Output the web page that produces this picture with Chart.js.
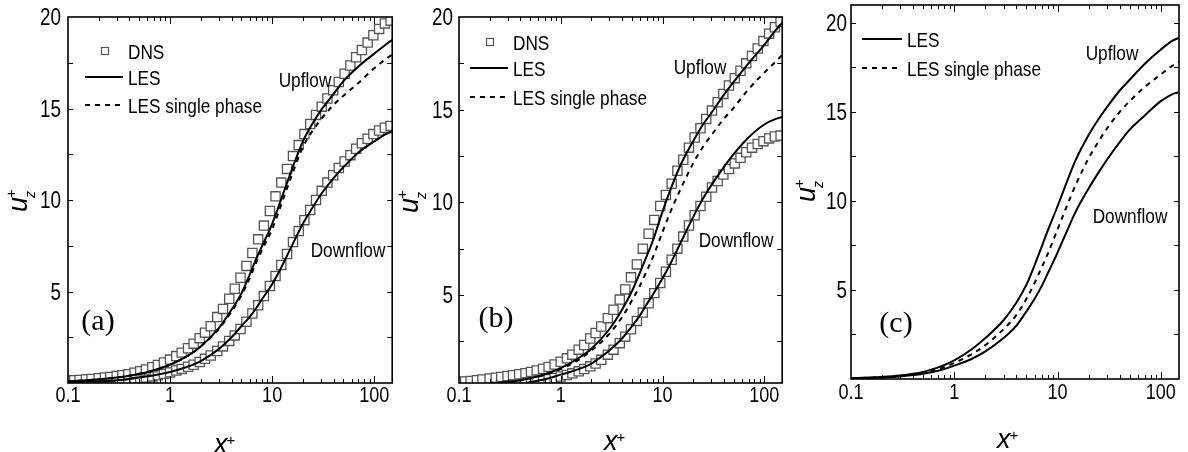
<!DOCTYPE html>
<html>
<head>
<meta charset="utf-8">
<script src="https://cdn.jsdelivr.net/npm/chart.js@4.4.1/dist/chart.umd.min.js"></script>
<style>
    html, body { margin: 0; padding: 0; background: #fff; }
    #wrap { position: relative; width: 1188px; height: 452px; }
    canvas { position: absolute; top: 0; }
</style>
</head>
<body>
<div id="wrap">
    <canvas id="chartA" width="400" height="452" style="left:0px"></canvas>
    <canvas id="chartB" width="394" height="452" style="left:396px"></canvas>
    <canvas id="chartC" width="398" height="452" style="left:790px"></canvas>
</div>
<script>
// x+ positions of the DNS samples (a, b)
const DNS_X = [0.1, 0.115, 0.13, 0.15, 0.17, 0.2, 0.23, 0.26, 0.3, 0.34, 0.39, 0.45, 0.51, 0.58, 0.67, 0.76, 0.87,
    1.0, 1.15, 1.3, 1.5, 1.7, 1.95, 2.2, 2.5, 2.9, 3.3, 3.8, 4.3, 4.9, 5.6, 6.4, 7.3, 8.3, 9.5,
    10.8, 12.3, 14, 16, 18.2, 20.7, 23.6, 26.9, 30.6, 34.8, 39.6, 45, 51.3, 58.4, 66.5, 75.7, 86.2, 98.1,
    111.7, 127.1, 144.7];
// x+ positions of the LES curves
const LES_X = [0.1, 0.15, 0.2, 0.3, 0.4, 0.5, 0.7, 1, 1.5, 2, 3, 4, 5, 6, 7, 8, 10, 12, 15, 20, 25, 30, 40, 50, 70, 100, 130, 150];

// panel (a)
const A_DNS_UP = [0.13, 0.15, 0.17, 0.19, 0.22, 0.26, 0.3, 0.33, 0.38, 0.42, 0.48, 0.56, 0.64, 0.74, 0.86, 0.98, 1.12,
    1.28, 1.47, 1.66, 1.9, 2.15, 2.45, 2.75, 3.1, 3.6, 4.05, 4.6, 5.15, 5.75, 6.4, 7.1, 7.85, 8.6, 9.4,
    10.2, 10.95, 11.7, 12.4, 13.0, 13.6, 14.15, 14.65, 15.1, 15.55, 16.0, 16.45, 16.9, 17.35, 17.8, 18.2, 18.6, 19.0,
    19.35, 19.65, 19.8];
const A_DNS_DOWN = [0.04, 0.05, 0.06, 0.07, 0.08, 0.1, 0.11, 0.13, 0.15, 0.17, 0.2, 0.23, 0.26, 0.3, 0.36, 0.42, 0.5,
    0.58, 0.68, 0.77, 0.89, 1.0, 1.15, 1.32, 1.5, 1.75, 2.0, 2.3, 2.6, 2.95, 3.35, 3.8, 4.25, 4.75, 5.3,
    5.85, 6.45, 7.05, 7.7, 8.3, 8.9, 9.45, 10.0, 10.5, 10.95, 11.35, 11.75, 12.1, 12.45, 12.8, 13.1, 13.35, 13.6,
    13.8, 13.95, 14.05];
const A_LES_UP = [0.1, 0.15, 0.2, 0.3, 0.4, 0.5, 0.7, 1.0, 1.5, 2.0, 3.0, 4.0, 4.9, 5.9, 6.8, 7.5, 8.7, 9.9, 11.4, 13.2, 14.2, 14.9, 15.8, 16.5, 17.3, 18.0, 18.5, 18.75];
const A_LES_DOWN = [0.05, 0.08, 0.1, 0.15, 0.22, 0.3, 0.42, 0.6, 0.9, 1.2, 1.85, 2.5, 3.1, 3.6, 4.1, 4.6, 5.4, 6.2, 7.3, 8.7, 9.6, 10.3, 11.2, 11.8, 12.6, 13.2, 13.6, 13.75];
const A_SINGLE = [0.1, 0.15, 0.2, 0.3, 0.4, 0.5, 0.7, 1.0, 1.5, 2.0, 2.95, 3.9, 4.8, 5.7, 6.6, 7.3, 8.4, 9.6, 11.1, 12.9, 13.8, 14.4, 15.2, 15.7, 16.4, 17.2, 17.7, 17.95];

// panel (b)
const B_DNS_UP = [0.3, 0.33, 0.36, 0.4, 0.44, 0.49, 0.54, 0.58, 0.63, 0.67, 0.72, 0.78, 0.85, 0.93, 1.02, 1.12, 1.25,
    1.4, 1.58, 1.78, 2.05, 2.3, 2.65, 2.95, 3.3, 3.75, 4.2, 4.75, 5.3, 5.95, 6.65, 7.5, 8.3, 9.05, 9.8,
    10.4, 11.0, 11.7, 12.3, 12.95, 13.5, 14.0, 14.5, 14.95, 15.4, 15.85, 16.3, 16.7, 17.1, 17.5, 17.9, 18.3, 18.7,
    19.1, 19.45, 19.75];
const B_DNS_DOWN = [0.06, 0.07, 0.08, 0.09, 0.1, 0.12, 0.14, 0.16, 0.18, 0.21, 0.24, 0.28, 0.31, 0.35, 0.4, 0.45, 0.52,
    0.6, 0.68, 0.77, 0.88, 1.0, 1.15, 1.3, 1.5, 1.78, 2.05, 2.4, 2.75, 3.15, 3.6, 4.05, 4.55, 5.1, 5.65,
    6.25, 6.9, 7.5, 8.15, 8.75, 9.3, 9.8, 10.3, 10.8, 11.15, 11.5, 11.8, 12.1, 12.4, 12.7, 12.95, 13.15, 13.3,
    13.45, 13.55, 13.6];
const B_LES_UP = [0.1, 0.15, 0.2, 0.3, 0.4, 0.5, 0.72, 1.05, 1.6, 2.1, 3.15, 4.2, 5.2, 6.2, 7.1, 7.9, 9.5, 10.7, 12.0, 13.3, 14.2, 14.8, 15.8, 16.5, 17.5, 18.5, 19.3, 19.7];
const B_LES_DOWN = [0.06, 0.09, 0.12, 0.17, 0.22, 0.3, 0.45, 0.7, 1.0, 1.3, 2.0, 2.65, 3.3, 3.9, 4.5, 5.0, 5.9, 6.7, 7.8, 9.2, 10.2, 10.9, 11.9, 12.6, 13.5, 14.2, 14.5, 14.6];
const B_SINGLE = [0.1, 0.15, 0.2, 0.3, 0.4, 0.5, 0.7, 1.0, 1.5, 2.0, 2.9, 3.8, 4.7, 5.5, 6.3, 7.0, 8.4, 9.5, 10.7, 12.1, 13.0, 13.6, 14.5, 15.1, 16.1, 17.0, 17.6, 17.95];

// panel (c)
const C_LES_UP = [0.04, 0.08, 0.11, 0.19, 0.29, 0.4, 0.65, 1.05, 1.7, 2.3, 3.3, 4.3, 5.3, 6.4, 7.4, 8.3, 9.7, 10.9, 12.3, 13.7, 14.6, 15.25, 16.2, 16.8, 17.7, 18.5, 19.0, 19.15];
const C_LES_DOWN = [0.03, 0.06, 0.08, 0.14, 0.22, 0.3, 0.46, 0.75, 1.15, 1.55, 2.3, 3.0, 3.8, 4.5, 5.2, 5.9, 7.1, 8.15, 9.4, 10.7, 11.6, 12.3, 13.3, 14.0, 14.8, 15.6, 16.0, 16.1];
const C_SINGLE = [0.03, 0.07, 0.09, 0.16, 0.25, 0.35, 0.55, 0.9, 1.42, 1.9, 2.8, 3.6, 4.5, 5.4, 6.25, 7.0, 8.4, 9.55, 10.9, 12.4, 13.35, 14.05, 15.0, 15.6, 16.4, 17.1, 17.6, 17.8];

// axis ticks
const X_TICKS = [0.1, 0.2, 0.3, 0.4, 0.5, 0.6, 0.7, 0.8, 0.9, 1, 2, 3, 4, 5, 6, 7, 8, 9,
    10, 20, 30, 40, 50, 60, 70, 80, 90, 100];
const X_MAJOR = [0.1, 1, 10, 100];
const X_TICK_LABELS = ["0.1", "1", "10", "100"];
const Y_TICKS = [2.5, 5, 7.5, 10, 12.5, 15, 17.5, 20];
const Y_LABELED = [5, 10, 15, 20];

const SANS = "'Liberation Sans', Arial, Helvetica, sans-serif";
const NARROW = 0.82; // Helvetica Narrow look

function pts(xs, ys) {
    return xs.map((x, i) => ({ x: x, y: ys[i] }));
}

function dnsSet(ys) {
    return {
        data: pts(DNS_X, ys),
        showLine: false,
        pointStyle: "rect",
        pointRadius: 6.5,
        pointBorderWidth: 1.3,
        pointBorderColor: "#555",
        pointBackgroundColor: "#fff",
        order: 2
    };
}

function lesSet(ys, dashed) {
    return {
        data: pts(LES_X, ys),
        showLine: true,
        borderColor: "#000",
        borderWidth: 2,
        borderDash: dashed ? [5, 5] : [],
        pointRadius: 0,
        cubicInterpolationMode: "monotone",
        fill: false,
        order: 1
    };
}

// 压窄的无衬线文字
function narrowText(ctx, text, x, y, size, align) {
    ctx.save();
    ctx.translate(x, y);
    ctx.scale(NARROW, 1);
    ctx.font = size + "px " + SANS;
    ctx.textAlign = align;
    ctx.textBaseline = "alphabetic";
    ctx.fillText(text, 0, 0);
    ctx.restore();
}

// 画框、刻度和面板里的文字
const decorPlugin = {
    id: "decor",
    afterDatasetsDraw(chart, args, o) {
        const { ctx, chartArea: a, scales } = chart;
        const sx = scales.x, sy = scales.y;
        ctx.save();
        ctx.strokeStyle = "#000";
        ctx.fillStyle = "#000";
        ctx.lineWidth = 1;
        ctx.beginPath();
        sx.ticks.forEach(t => {
            const px = Math.round(sx.getPixelForValue(t.value)) + 0.5;
            if (px <= a.left + 1 || px >= a.right - 1) return;
            const len = X_MAJOR.includes(t.value) ? 7 : 4;
            ctx.moveTo(px, a.bottom); ctx.lineTo(px, a.bottom - len);
            ctx.moveTo(px, a.top); ctx.lineTo(px, a.top + len);
        });
        sy.ticks.forEach(t => {
            const py = Math.round(sy.getPixelForValue(t.value)) + 0.5;
            if (py <= a.top + 1 || py >= a.bottom - 1) return;
            ctx.moveTo(a.left, py); ctx.lineTo(a.left + 5, py);
            ctx.moveTo(a.right, py); ctx.lineTo(a.right - 5, py);
        });
        ctx.stroke();
        ctx.lineWidth = 1.6;
        ctx.strokeRect(a.left, a.top, a.right - a.left, a.bottom - a.top);

        // tick labels
        X_MAJOR.forEach((v, i) => {
            narrowText(ctx, X_TICK_LABELS[i], sx.getPixelForValue(v), a.bottom + o.xLabelDrop, 22, "center");
        });
        Y_LABELED.forEach(v => {
            narrowText(ctx, String(v), a.left - o.yLabelGap, sy.getPixelForValue(v) + 8, 23, "right");
        });

        // legend
        o.legend.forEach(item => {
            if (item.kind === "dns") {
                ctx.lineWidth = 1.2;
                ctx.strokeStyle = "#555";
                ctx.strokeRect(item.mx - 3.5, item.y - 3.5, 7, 7);
            } else {
                ctx.strokeStyle = "#000";
                ctx.lineWidth = 2;
                ctx.setLineDash(item.kind === "dash" ? [5, 5] : []);
                ctx.beginPath();
                ctx.moveTo(item.x0, item.y);
                ctx.lineTo(item.x1, item.y);
                ctx.stroke();
                ctx.setLineDash([]);
            }
            narrowText(ctx, item.text, item.tx, item.y + 8, 21, "left");
        });

        // Upflow / Downflow
        o.notes.forEach(n => narrowText(ctx, n.text, n.x, n.y + 8, 21, "center"));

        // (a) (b) (c)
        ctx.font = "30px 'Liberation Serif', 'Times New Roman', serif";
        ctx.textAlign = "center";
        ctx.textBaseline = "middle";
        ctx.fillText(o.tag.text, o.tag.x, o.tag.y);

        // axis titles
        const it = "italic 27px " + SANS;
        ctx.textAlign = "left";
        ctx.textBaseline = "alphabetic";
        ctx.font = it;
        const xw = ctx.measureText("x").width;
        ctx.fillText("x", o.xTitle.x, o.xTitle.y);
        ctx.font = "15px " + SANS;
        ctx.fillText("+", o.xTitle.x + xw - 1, o.xTitle.y - 8);

        ctx.translate(o.yTitle.x, o.yTitle.y);
        ctx.rotate(-Math.PI / 2);
        ctx.font = it;
        const uw = ctx.measureText("u").width;
        ctx.fillText("u", 0, 0);
        ctx.font = "15px " + SANS;
        ctx.fillText("+", uw - 1, -11);
        ctx.font = "italic 14px " + SANS;
        ctx.fillText("z", uw - 1, 8);
        ctx.restore();
    }
};

function makeChart(id, datasets, box, yMin, yMax, decor) {
    const ctx = document.getElementById(id).getContext("2d");
    return new Chart(ctx, {
        type: "scatter",
        data: { datasets: datasets },
        options: {
            responsive: false,
            animation: false,
            events: [],
            layout: { padding: { left: 0, right: box.right, top: box.top, bottom: 0 } },
            plugins: {
                legend: { display: false },
                tooltip: { enabled: false },
                decor: decor
            },
            scales: {
                x: {
                    type: "logarithmic",
                    min: 0.1,
                    max: 150,
                    grid: { display: false, drawTicks: false },
                    border: { display: false },
                    afterBuildTicks: s => { s.ticks = X_TICKS.map(v => ({ value: v })); },
                    afterFit: s => { s.height = box.xh; },
                    ticks: { display: false }
                },
                y: {
                    min: yMin,
                    max: yMax,
                    grid: { display: false, drawTicks: false },
                    border: { display: false },
                    afterBuildTicks: s => { s.ticks = Y_TICKS.map(v => ({ value: v })); },
                    afterFit: s => { s.width = box.yw; },
                    ticks: { display: false }
                }
            }
        },
        plugins: [decorPlugin]
    });
}

function dnsLegend(mx, lx0, lx1, tx, y0, y1, y2) {
    return [
        { kind: "dns", mx: mx, tx: tx, y: y0, text: "DNS" },
        { kind: "solid", x0: lx0, x1: lx1, tx: tx, y: y1, text: "LES" },
        { kind: "dash", x0: lx0, x1: lx1, tx: tx, y: y2, text: "LES single phase" }
    ];
}

makeChart("chartA",
    [dnsSet(A_DNS_UP), dnsSet(A_DNS_DOWN), lesSet(A_LES_UP), lesSet(A_LES_DOWN), lesSet(A_SINGLE, true)],
    { right: 6, top: 17, xh: 69, yw: 68 }, 0, 20,
    {
        xLabelDrop: 19, yLabelGap: 7,
        legend: dnsLegend(105, 85, 123, 128, 51, 77, 105),
        notes: [{ text: "Upflow", x: 305, y: 79 }, { text: "Downflow", x: 348, y: 249 }],
        tag: { text: "(a)", x: 98, y: 322 },
        xTitle: { x: 214, y: 453 },
        yTitle: { x: 27, y: 212 }
    });

makeChart("chartB",
    [dnsSet(B_DNS_UP), dnsSet(B_DNS_DOWN), lesSet(B_LES_UP), lesSet(B_LES_DOWN), lesSet(B_SINGLE, true)],
    { right: 5, top: 17, xh: 69, yw: 63 }, 0.25, 20,
    {
        xLabelDrop: 19, yLabelGap: 6,
        legend: dnsLegend(94, 74, 112, 117, 42, 68, 97),
        notes: [{ text: "Upflow", x: 304, y: 66 }, { text: "Downflow", x: 340, y: 239 }],
        tag: { text: "(b)", x: 100, y: 319 },
        xTitle: { x: 208, y: 450 },
        yTitle: { x: 22, y: 213 }
    });

makeChart("chartC",
    [lesSet(C_LES_UP), lesSet(C_LES_DOWN), lesSet(C_SINGLE, true)],
    { right: 9, top: 5, xh: 73, yw: 61 }, 0, 21,
    {
        xLabelDrop: 20, yLabelGap: 4,
        legend: [
            { kind: "solid", x0: 72, x1: 112, tx: 117, y: 39, text: "LES" },
            { kind: "dash", x0: 72, x1: 112, tx: 117, y: 68, text: "LES single phase" }
        ],
        notes: [{ text: "Upflow", x: 322, y: 52 }, { text: "Downflow", x: 340, y: 215 }],
        tag: { text: "(c)", x: 106, y: 324 },
        xTitle: { x: 207, y: 448 },
        yTitle: { x: 25, y: 202 }
    });
</script>
</body>
</html>
